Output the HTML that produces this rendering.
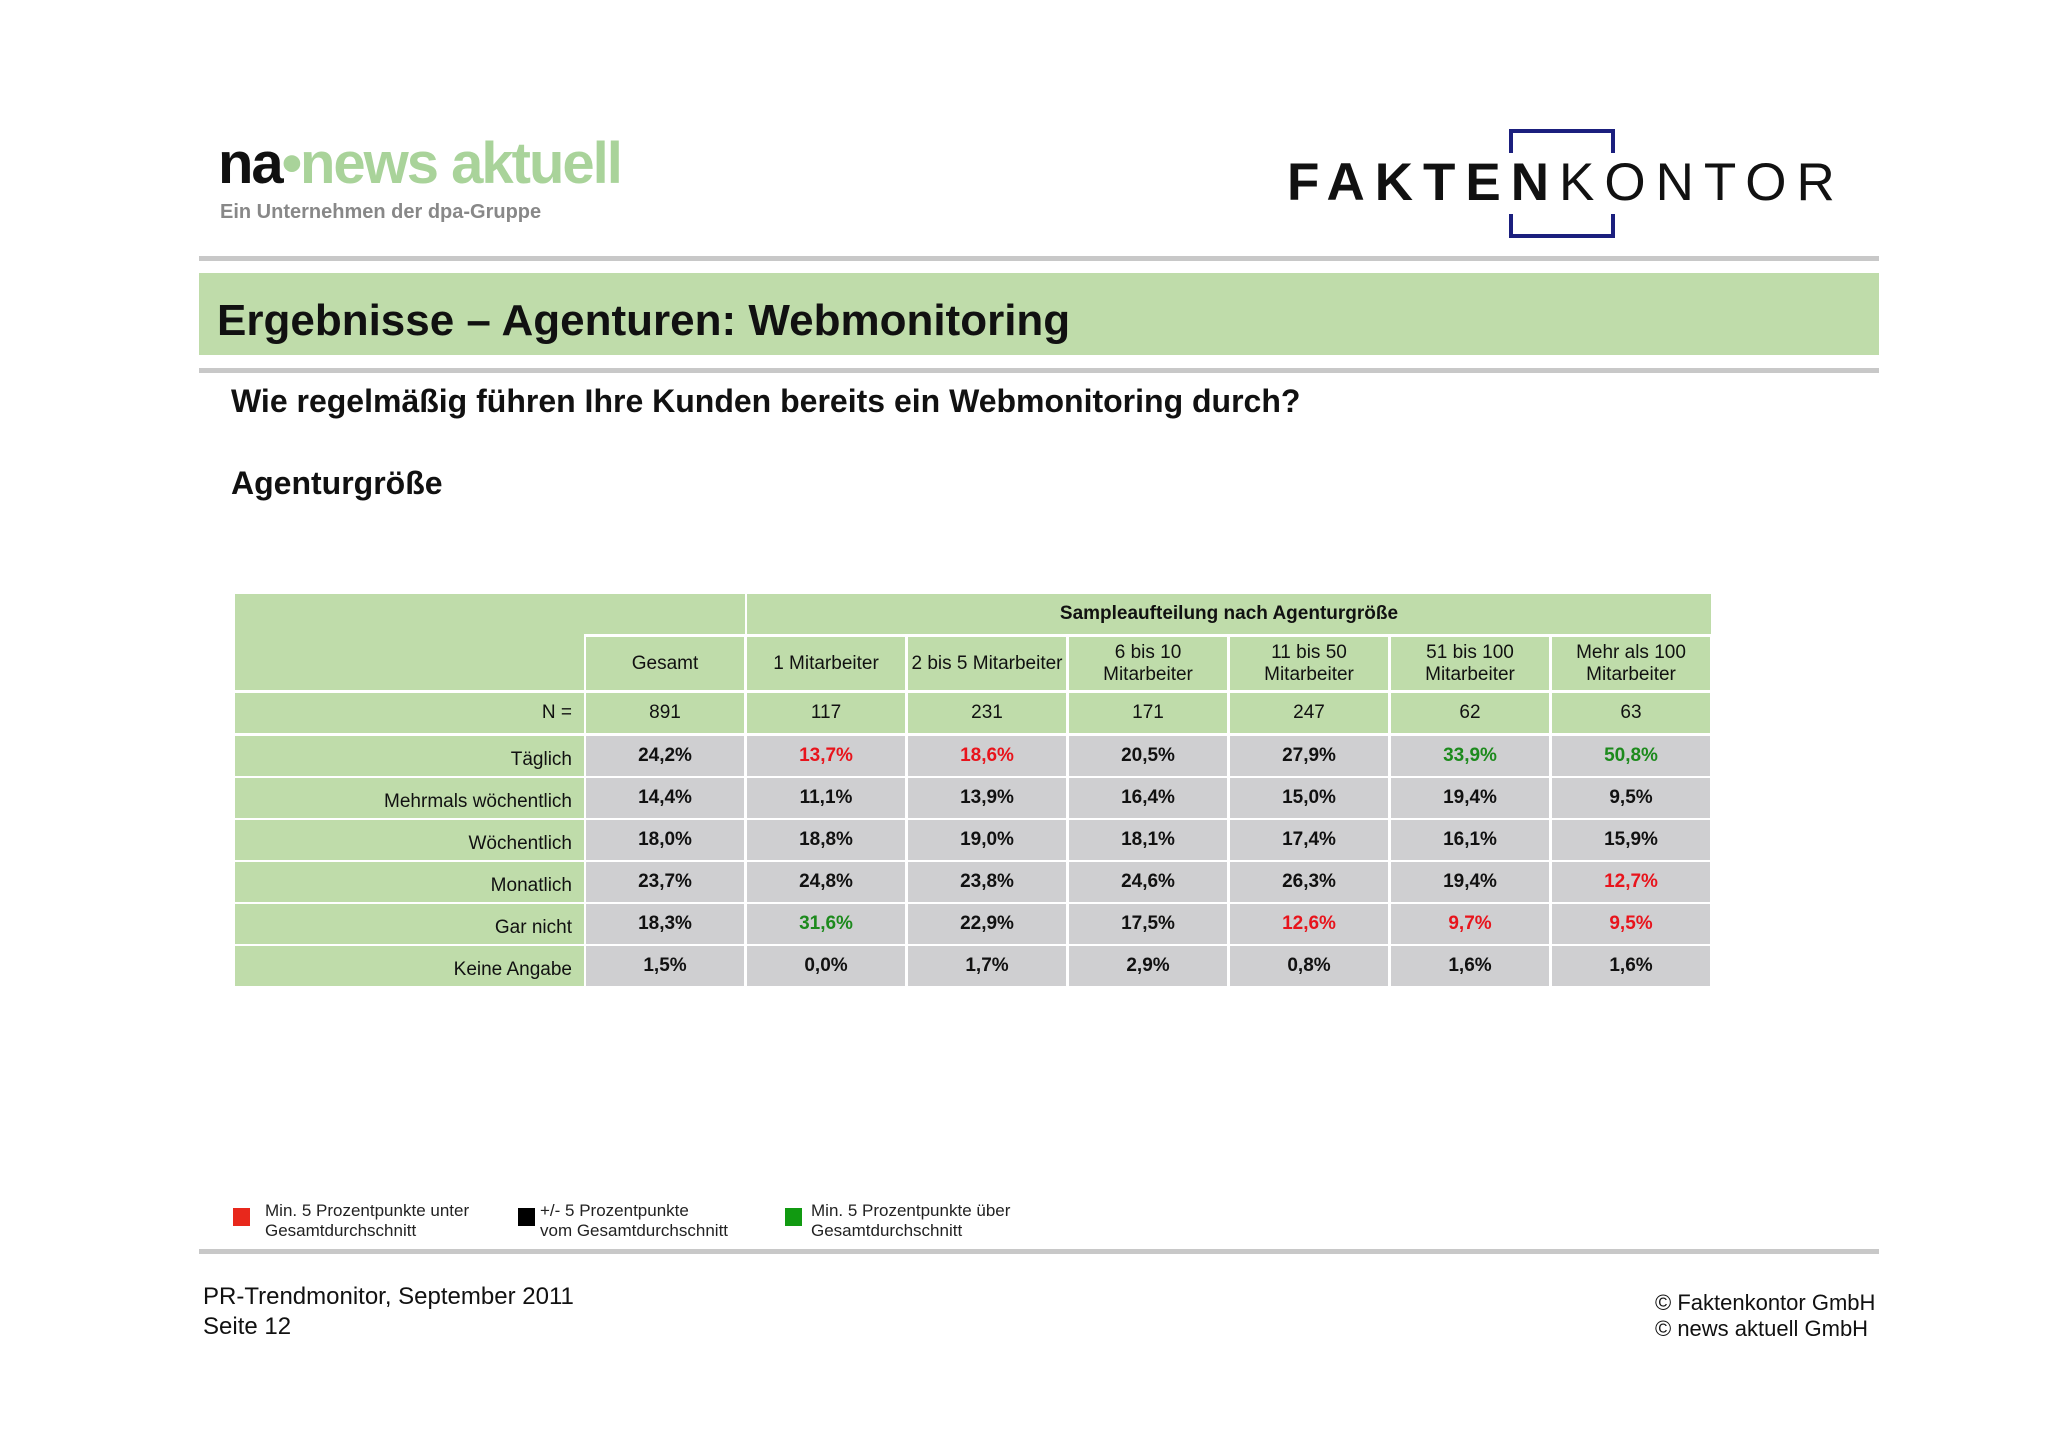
<!DOCTYPE html>
<html><head><meta charset="utf-8">
<style>
body{margin:0;width:2048px;height:1447px;background:#fff;position:relative;overflow:hidden;font-family:"Liberation Sans",Arial,sans-serif;}
.a{position:absolute;white-space:nowrap;}
.cell{position:absolute;display:flex;align-items:center;justify-content:center;text-align:center;font-size:19px;line-height:22px;color:#111;}
.g{background:#bfdcaa;}
.s{background:#cfcfd1;font-weight:bold;}
.r{color:#e8141c}
.gr{color:#1d8a1d}
</style></head><body>
<div class="a" style="left:218px;top:130px;font-size:58px;font-weight:bold;letter-spacing:-2px;"><span style="color:#111">na</span><span style="color:#a9d39a">•news aktuell</span></div>
<div class="a" style="left:220px;top:201px;font-size:20px;font-weight:bold;color:#888;">Ein Unternehmen der dpa-Gruppe</div>
<div class="a" style="left:1509px;top:129px;width:98px;height:20px;border:4px solid #1b1f7e;border-bottom:none;"></div>
<div class="a" style="left:1509px;top:214px;width:98px;height:20px;border:4px solid #1b1f7e;border-top:none;"></div>
<div class="a" style="left:1287px;top:152px;font-size:53px;color:#111;letter-spacing:10px;"><b>FAKTEN</b>KONTOR</div>
<div class="a" style="left:199px;top:256px;width:1680px;height:5px;background:#c8c8c8"></div>
<div class="a" style="left:199px;top:273px;width:1680px;height:82px;background:#bfdcaa"></div>
<div class="a" style="left:217px;top:296px;font-size:44px;font-weight:bold;color:#111;">Ergebnisse – Agenturen: Webmonitoring</div>
<div class="a" style="left:199px;top:368px;width:1680px;height:5px;background:#c8c8c8"></div>
<div class="a" style="left:231px;top:383px;font-size:32px;font-weight:bold;color:#111;">Wie regelmäßig führen Ihre Kunden bereits ein Webmonitoring durch?</div>
<div class="a" style="left:231px;top:465px;font-size:32px;font-weight:bold;color:#111;">Agenturgröße</div>
<div id="tbl"></div>

<div class="a" style="left:233px;top:1208px;width:17px;height:18px;background:#e8281c"></div>
<div class="a" style="left:265px;top:1201px;font-size:17px;line-height:20px;color:#222;">Min. 5 Prozentpunkte unter<br>Gesamtdurchschnitt</div>
<div class="a" style="left:518px;top:1208px;width:17px;height:18px;background:#000"></div>
<div class="a" style="left:540px;top:1201px;font-size:17px;line-height:20px;color:#222;">+/- 5 Prozentpunkte<br>vom Gesamtdurchschnitt</div>
<div class="a" style="left:785px;top:1208px;width:17px;height:18px;background:#119a11"></div>
<div class="a" style="left:811px;top:1201px;font-size:17px;line-height:20px;color:#222;">Min. 5 Prozentpunkte über<br>Gesamtdurchschnitt</div>
<div class="a" style="left:199px;top:1249px;width:1680px;height:5px;background:#c8c8c8"></div>
<div class="a" style="left:203px;top:1282px;font-size:24px;line-height:30px;color:#111;">PR-Trendmonitor, September 2011<br>Seite 12</div>
<div class="a" style="left:1655px;top:1290px;font-size:22px;line-height:26px;color:#111;">© Faktenkontor GmbH<br>© news aktuell GmbH</div>

<script>
const columns=["Gesamt","1 Mitarbeiter","2 bis 5 Mitarbeiter","6 bis 10<br>Mitarbeiter","11 bis 50<br>Mitarbeiter","51 bis 100<br>Mitarbeiter","Mehr als 100<br>Mitarbeiter"];
const nValues=["891","117","231","171","247","62","63"];
const rowLabels=["Täglich","Mehrmals wöchentlich","Wöchentlich","Monatlich","Gar nicht","Keine Angabe"];
const values=[
["24,2%","13,7%","18,6%","20,5%","27,9%","33,9%","50,8%"],
["14,4%","11,1%","13,9%","16,4%","15,0%","19,4%","9,5%"],
["18,0%","18,8%","19,0%","18,1%","17,4%","16,1%","15,9%"],
["23,7%","24,8%","23,8%","24,6%","26,3%","19,4%","12,7%"],
["18,3%","31,6%","22,9%","17,5%","12,6%","9,7%","9,5%"],
["1,5%","0,0%","1,7%","2,9%","0,8%","1,6%","1,6%"]];
const flags=[
["","r","r","","","gr","gr"],
["","","","","","",""],
["","","","","","",""],
["","","","","","","r"],
["","gr","","","r","r","r"],
["","","","","","",""]];
const T=document.getElementById('tbl');
const L=235,LW=349,CW=161,TOP=594;
function cell(x,y,w,h,cls,html,name,extra){
 const d=document.createElement('div');
 d.className='cell '+cls;
 d.style.left=x+'px';d.style.top=y+'px';d.style.width=w+'px';d.style.height=h+'px';
 if(extra)Object.assign(d.style,extra);
 d.innerHTML=html;
 
 
 T.appendChild(d);return d;
}
const colX=i=>L+LW+2+i*CW;
cell(L,TOP,LW+2+CW-2,40,'g','','header-corner');
cell(L,TOP+40,LW,56,'g','','header-corner-lower');
cell(colX(1),TOP,CW*6-2,40,'g','<b>Sampleaufteilung nach Agenturgröße</b>','group-header');
columns.forEach((c,i)=>cell(colX(i),TOP+43,CW-3,53,'g',c,'column-header'));
const nY=TOP+99;
cell(L,nY,LW,40,'g','N =','n-label',{justifyContent:'flex-end',paddingRight:'12px',boxSizing:'border-box'});
nValues.forEach((v,i)=>cell(colX(i),nY,CW-3,40,'g',v,'n-value'));
rowLabels.forEach((lab,r)=>{
 const y=nY+43+r*42;
 cell(L,y,LW,40,'g',lab,'row-label',{justifyContent:'flex-end',paddingRight:'12px',paddingTop:'8px',boxSizing:'border-box'});
 values[r].forEach((v,i)=>cell(colX(i),y,CW-3,40,'s '+flags[r][i],v,'value-cell'));
});
</script>
</body></html>
